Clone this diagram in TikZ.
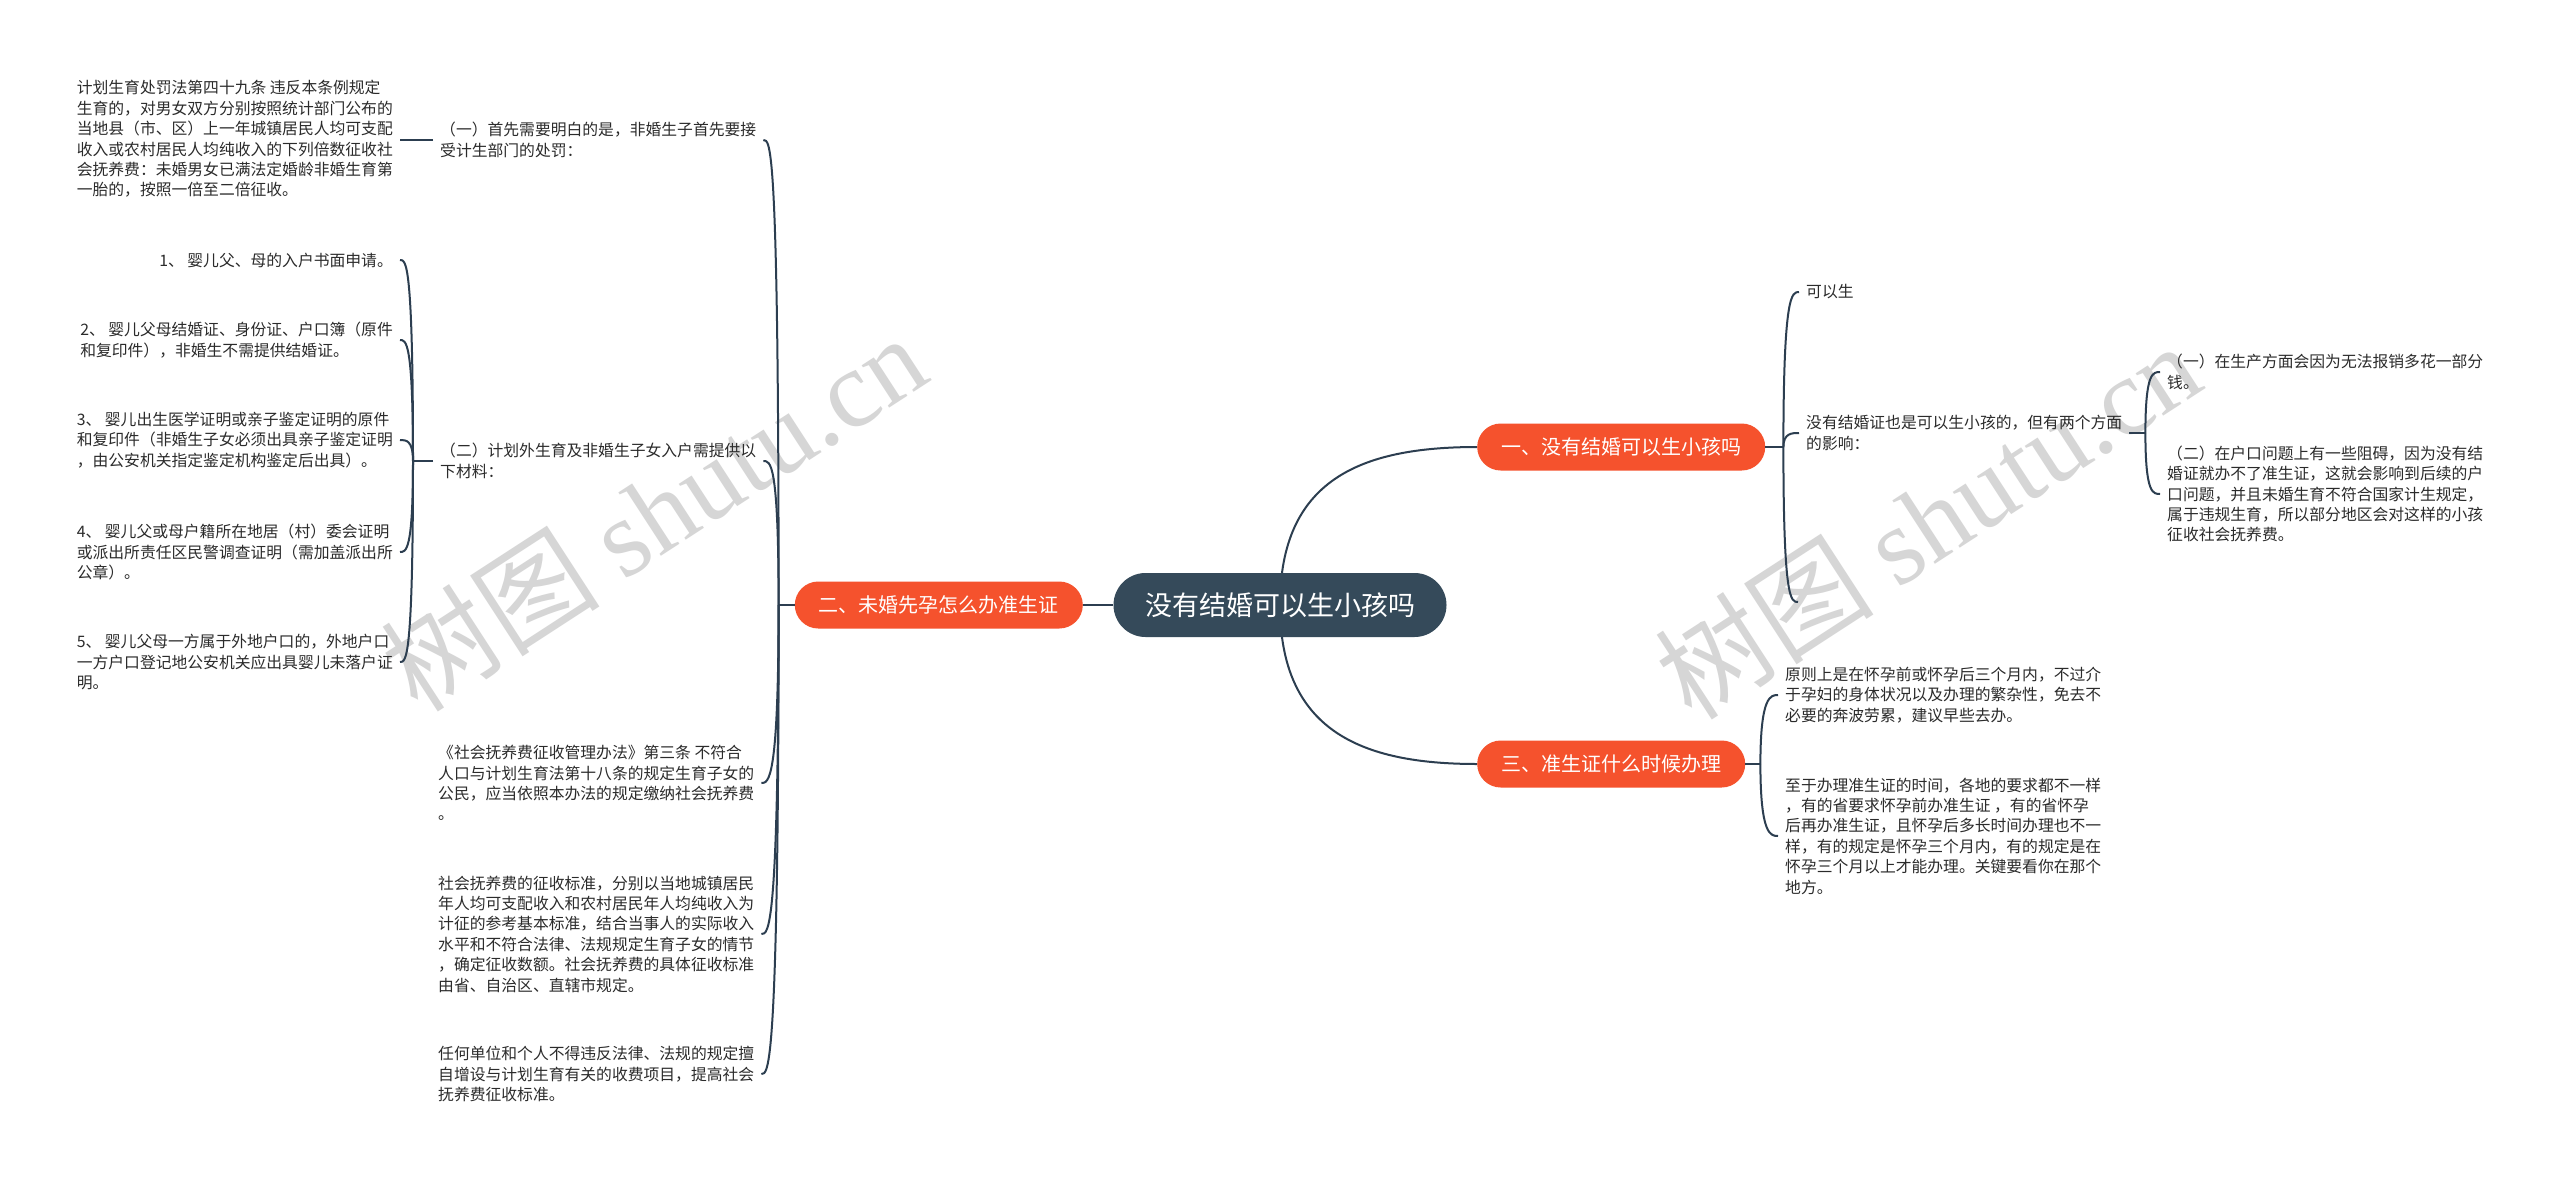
\documentclass[tikz,border=0pt]{standalone}
\usepackage{fontspec}
\setmainfont{Noto Sans CJK SC}
\newfontfamily\wmfont{Liberation Serif}
\usetikzlibrary{backgrounds,calc}
\definecolor{orangeC}{HTML}{F5522D}
\definecolor{rootC}{HTML}{354A5A}
\definecolor{lineC}{HTML}{2C3E50}
\definecolor{txtC}{HTML}{2B2B2B}
\definecolor{wmC}{HTML}{D6D6D6}
\begin{document}
\begin{tikzpicture}[x=1pt,y=-1pt,
  conn/.style={draw=lineC, line width=2pt},
  rootbox/.style={fill=rootC, text=white, rounded corners=32pt, minimum height=64pt, minimum width=333pt, font=\fontsize{27}{30}\selectfont, inner sep=0pt},
  mainbox/.style={fill=orangeC, text=white, rounded corners=23.5pt, minimum height=47pt, inner xsep=24pt, inner ysep=0pt, font=\fontsize{20}{24}\selectfont},
  leaf/.style={text=txtC, align=left, inner xsep=7pt, inner ysep=3pt, font=\fontsize{15.8}{20.4}\selectfont},
  wm/.style={text=wmC, rotate=33, font=\fontsize{110}{120}\selectfont}
]
\useasboundingbox (0,0) rectangle (2560,1181);
\begin{pgfonlayer}{background}
\fill[white] (0,0) rectangle (2560,1181);
\node[wm] (wm1) at (653,512) {树图 {\wmfont shutu.cn}};
\node[wm] (wm2) at (1927,520) {树图 {\wmfont shutu.cn}};
\end{pgfonlayer}

% root and main branches
\node[rootbox] (root) at (1280,605) {没有结婚可以生小孩吗};
\node[mainbox, anchor=west] (m1) at (1477,447) {一、没有结婚可以生小孩吗};
\node[mainbox, anchor=east] (m2) at (1083,605) {二、未婚先孕怎么办准生证};
\node[mainbox, anchor=west] (m3) at (1477,764) {三、准生证什么时候办理};

% left branch
\node[leaf, anchor=west] (a1) at (433,140) {（一）首先需要明白的是，非婚生子首先要接\\受计生部门的处罚：};
\node[leaf, anchor=east] (L1) at (400,139) {计划生育处罚法第四十九条 违反本条例规定\\生育的，对男女双方分别按照统计部门公布的\\当地县（市、区）上一年城镇居民人均可支配\\收入或农村居民人均纯收入的下列倍数征收社\\会抚养费：未婚男女已满法定婚龄非婚生育第\\一胎的，按照一倍至二倍征收。};
\node[leaf, anchor=west] (a2) at (433,461) {（二）计划外生育及非婚生子女入户需提供以\\下材料：};
\node[leaf, anchor=east] (c1) at (400,260) {1、 婴儿父、母的入户书面申请。};
\node[leaf, anchor=east] (c2) at (400,340) {2、 婴儿父母结婚证、身份证、户口簿（原件\\和复印件），非婚生不需提供结婚证。};
\node[leaf, anchor=east] (c3) at (400,440) {3、 婴儿出生医学证明或亲子鉴定证明的原件\\和复印件（非婚生子女必须出具亲子鉴定证明\\，由公安机关指定鉴定机构鉴定后出具）。};
\node[leaf, anchor=east] (c4) at (400,552) {4、 婴儿父或母户籍所在地居（村）委会证明\\或派出所责任区民警调查证明（需加盖派出所\\公章）。};
\node[leaf, anchor=east] (c5) at (400,662) {5、 婴儿父母一方属于外地户口的，外地户口\\一方户口登记地公安机关应出具婴儿未落户证\\明。};
\node[leaf, anchor=west] (s1) at (431,783) {《社会抚养费征收管理办法》第三条 不符合\\人口与计划生育法第十八条的规定生育子女的\\公民，应当依照本办法的规定缴纳社会抚养费\\。};
\node[leaf, anchor=west] (s2) at (431,934) {社会抚养费的征收标准，分别以当地城镇居民\\年人均可支配收入和农村居民年人均纯收入为\\计征的参考基本标准，结合当事人的实际收入\\水平和不符合法律、法规规定生育子女的情节\\，确定征收数额。社会抚养费的具体征收标准\\由省、自治区、直辖市规定。};
\node[leaf, anchor=west] (s3) at (431,1074) {任何单位和个人不得违反法律、法规的规定擅\\自增设与计划生育有关的收费项目，提高社会\\抚养费征收标准。};

% right branch one
\node[leaf, anchor=west] (r1) at (1799,292) {可以生};
\node[leaf, anchor=west] (r2) at (1799,433) {没有结婚证也是可以生小孩的，但有两个方面\\的影响：};
\coordinate (r0) at (1798,602);
\node[leaf, anchor=west] (r2a) at (2160,372) {（一）在生产方面会因为无法报销多花一部分\\钱。};
\node[leaf, anchor=west] (r2b) at (2160,494) {（二）在户口问题上有一些阻碍，因为没有结\\婚证就办不了准生证，这就会影响到后续的户\\口问题，并且未婚生育不符合国家计生规定，\\属于违规生育，所以部分地区会对这样的小孩\\征收社会抚养费。};

% right branch three
\node[leaf, anchor=west] (t1) at (1778,695) {原则上是在怀孕前或怀孕后三个月内，不过介\\于孕妇的身体状况以及办理的繁杂性，免去不\\必要的奔波劳累，建议早些去办。};
\node[leaf, anchor=west] (t2) at (1778,836) {至于办理准生证的时间，各地的要求都不一样\\，有的省要求怀孕前办准生证 ，有的省怀孕\\后再办准生证，且怀孕后多长时间办理也不一\\样，有的规定是怀孕三个月内，有的规定是在\\怀孕三个月以上才能办理。关键要看你在那个\\地方。};

\begin{pgfonlayer}{background}
\draw[conn] (root.center) .. controls ($(root.center)+(0,-125)$) and ($(m1.west)+(-117,0)$) .. (m1.west);
\draw[conn] (root.center) .. controls ($(root.center)+(0,125)$) and ($(m3.west)+(-117,0)$) .. (m3.west);
\draw[conn] (root.west) -- (m2.east);
\end{pgfonlayer}

% left trunk
\coordinate (T2) at ([xshift=-16pt]m2.west);
\draw[conn] (m2.west) -- (T2);
\foreach \c in {a1,a2,s1,s2,s3}
  \draw[conn] (T2) .. controls (T2 |- \c.east) and ([xshift=7pt]\c.east) .. (\c.east);
\draw[conn] (a1.west) -- (a1.west -| L1.east);
\coordinate (B2) at ([xshift=-20pt]a2.west);
\draw[conn] (a2.west) -- (B2);
\foreach \c in {c1,c2,c3,c4,c5}
  \draw[conn] (B2) .. controls (B2 |- \c.east) and ([xshift=6pt]\c.east) .. (\c.east);

% right brackets
\coordinate (B1) at ([xshift=18pt]m1.east);
\draw[conn] (m1.east) -- (B1);
\foreach \c in {r1,r2}
  \draw[conn] (B1) .. controls (B1 |- \c.west) and ([xshift=-7pt]\c.west) .. (\c.west);
\draw[conn] (B1) .. controls (B1 |- r0) and ([xshift=-7pt]r0) .. (r0);
\coordinate (BR) at ([xshift=16pt]r2.east);
\draw[conn] (r2.east) -- (BR);
\foreach \c in {r2a,r2b}
  \draw[conn] (BR) .. controls (BR |- \c.west) and ([xshift=-7pt]\c.west) .. (\c.west);
\coordinate (B3) at ([xshift=15pt]m3.east);
\draw[conn] (m3.east) -- (B3);
\foreach \c in {t1,t2}
  \draw[conn] (B3) .. controls (B3 |- \c.west) and ([xshift=-7pt]\c.west) .. (\c.west);
\end{tikzpicture}
\end{document}
